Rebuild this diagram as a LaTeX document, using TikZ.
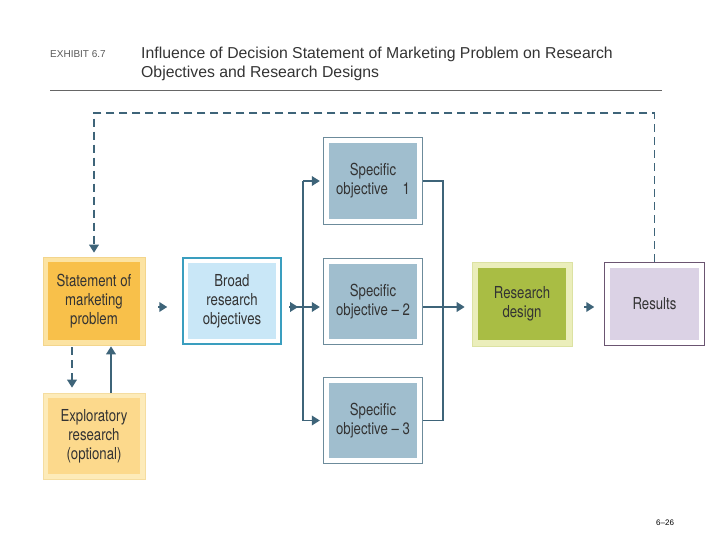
\documentclass[tikz,border=0pt]{standalone}
\usepackage{fontspec}
\setmainfont{Liberation Sans}
\newfontfamily\boxfam[FakeStretch=0.80,Ligatures=TeX]{TeX Gyre Heros}
\usetikzlibrary{arrows.meta}
\definecolor{cLine}{HTML}{3E6479}
\definecolor{cText}{HTML}{333333}
\definecolor{cStmt}{HTML}{F8C04A}
\definecolor{cStmtBand}{HTML}{FCE3A2}
\definecolor{cStmtEdge}{HTML}{F3D58C}
\definecolor{cExpl}{HTML}{FCD98C}
\definecolor{cExplBand}{HTML}{FDEBB9}
\definecolor{cExplEdge}{HTML}{F5DDA0}
\definecolor{cTeal}{HTML}{3A9EBF}
\definecolor{cBroad}{HTML}{C9E7F7}
\definecolor{cSpecEdge}{HTML}{6C8B9B}
\definecolor{cSpec}{HTML}{A0BECE}
\definecolor{cRD}{HTML}{A9BD44}
\definecolor{cRDBand}{HTML}{EBEEBB}
\definecolor{cRDEdge}{HTML}{DCE2A2}
\definecolor{cResEdge}{HTML}{6B5571}
\definecolor{cRes}{HTML}{DBD2E5}
\tikzset{
  conn/.style={draw=cLine, line width=1.8pt},
  arr/.style={conn, -{Triangle[length=8pt,width=9.5pt]}},
  boxbase/.style={rectangle, inner sep=0pt, align=center, text=cText,
    font=\boxfam\fontsize{16.5}{19}\selectfont},
  inset/.style 2 args={path picture={\fill[#2]
      ([shift={(#1,-#1)}]path picture bounding box.north west) rectangle
      ([shift={(-#1,#1)}]path picture bounding box.south east);}},
  dashpat/.style={dash pattern=on 8pt off 5pt}
}
\begin{document}
\begin{tikzpicture}[x=1pt,y=-1pt]
\useasboundingbox (0,0) rectangle (720,540);
% header
\node[anchor=base west, inner sep=0pt, text=black!65, font=\fontsize{10}{12}\selectfont] (exh) at (50,58) {EXHIBIT 6.7};
\node[anchor=base west, inner sep=0pt, text=cText, font=\fontsize{15.8}{19}\selectfont] (ttl1) at (141,59)
  {Influence of Decision Statement of Marketing Problem on Research};
\node[anchor=base west, inner sep=0pt, text=cText, font=\fontsize{15.8}{19}\selectfont] (ttl2) at (141,78)
  {Objectives and Research Designs};
\coordinate (ruleL) at (50,90);
\coordinate (ruleR) at (662,90);
\draw[black!60, line width=0.8pt] (ruleL) -- (ruleR);
\node[anchor=base west, inner sep=0pt, text=black, font=\fontsize{8}{10}\selectfont] (pg) at (656,525) {6--26};

% boxes
\node[boxbase, minimum width=102pt, minimum height=88pt, fill=cStmtBand, draw=cStmtEdge, line width=0.6pt,
  inset={5pt}{cStmt}] (stmt) at (94,301) {Statement of\\marketing\\problem};
\node[boxbase, minimum width=102pt, minimum height=86pt, fill=cExplBand, draw=cExplEdge, line width=0.6pt,
  inset={5pt}{cExpl}] (expl) at (94,436) {Exploratory\\research\\(optional)};
\node[boxbase, minimum width=98pt, minimum height=86pt, fill=white, draw=cTeal, line width=2.2pt,
  inset={5pt}{cBroad}] (broad) at (232,301) {Broad\\research\\objectives};
\node[boxbase, minimum width=99pt, minimum height=87pt, fill=white, draw=cSpecEdge, line width=1.3pt,
  inset={5.5pt}{cSpec}] (s1) at (373,181) {Specific\\objective \ \ \ 1};
\node[boxbase, minimum width=99pt, minimum height=86pt, fill=white, draw=cSpecEdge, line width=1.3pt,
  inset={5.5pt}{cSpec}] (s2) at (373,301.5) {Specific\\objective \textendash{} 2};
\node[boxbase, minimum width=99pt, minimum height=86pt, fill=white, draw=cSpecEdge, line width=1.3pt,
  inset={5.5pt}{cSpec}] (s3) at (373,420.5) {Specific\\objective \textendash{} 3};
\node[boxbase, minimum width=100pt, minimum height=84pt, fill=cRDBand, draw=cRDEdge, line width=0.6pt,
  inset={6pt}{cRD}] (rd) at (522,304) {Research\\design};
\node[boxbase, minimum width=100pt, minimum height=83pt, fill=white, draw=cResEdge, line width=1.5pt,
  inset={5.5pt}{cRes}] (res) at (654.5,304) {Results};

% connectors
\coordinate (row) at (0,307);
\coordinate (top) at (0,113);
\coordinate (bx) at (303,307);
\coordinate (cx) at (443,307);
% feedback dashed loop
\draw[arr, dashpat, shorten >=4pt] (res.north) -- (res.north |- top) -| (stmt.north);
% statement <-> exploratory
\draw[arr, dashpat, shorten <=2pt, shorten >=5pt] ([xshift=-22pt]stmt.south) -- ([xshift=-22pt]expl.north);
\draw[arr, shorten >=1pt] ([xshift=17pt]expl.north) -- ([xshift=17pt]stmt.south);
% statement -> broad (tip only)
\draw[arr] ([xshift=13pt]stmt.east |- row) -- ([xshift=22pt]stmt.east |- row);
% broad -> branch
\draw[arr] ([xshift=7pt]broad.east |- row) -- ([xshift=16pt]broad.east |- row);
\draw[conn] ([xshift=15pt]broad.east |- row) -- (bx);
\draw[conn] (bx |- s1.west) -- (bx |- s3.west);
\draw[arr, shorten >=3pt] (bx |- s1.west) -- (s1.west);
\draw[arr, shorten >=3pt] (bx) -- (s2.west |- row);
\draw[arr, shorten >=3pt] (bx |- s3.west) -- (s3.west);
% collector
\draw[conn] (s1.east) -| (cx |- s3.east) -- (s3.east);
\draw[arr, shorten >=7pt] (s2.east |- row) -- (rd.west |- row);
% research design -> results (tip only)
\draw[arr] ([xshift=12pt]rd.east |- row) -- ([xshift=22pt]rd.east |- row);
\end{tikzpicture}
\end{document}
